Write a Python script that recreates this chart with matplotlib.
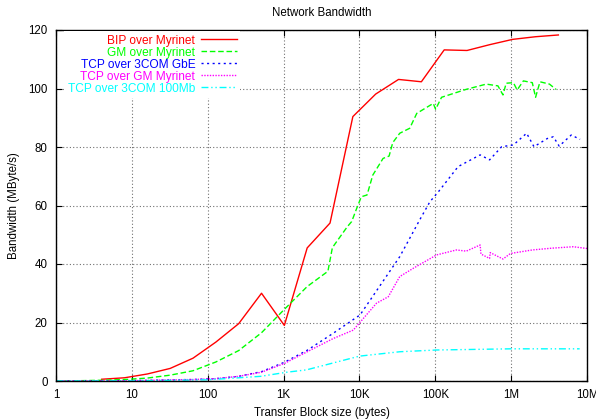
import numpy as np
import matplotlib
matplotlib.use("Agg")
import matplotlib.pyplot as plt

plt.rcParams['font.family'] = ['Liberation Sans', 'DejaVu Sans']
plt.rcParams['font.size'] = 8.3

# block sizes (bytes) and bandwidth (MByte/s)
bip_x = [4, 8, 16, 32, 64, 128, 256, 512, 1024, 2048, 4096, 8192, 16384, 32768,
         65536, 131072, 262144, 524288, 1048576, 2097152, 4194304]
bip_y = [0.6, 1.1, 2.4, 4.3, 7.8, 13.3, 19.6, 30.0, 19.0, 45.5, 54.0, 90.4, 98.1,
         103.1, 102.3, 113.2, 113.0, 115.0, 116.8, 117.7, 118.3]

gm_x = [1, 2, 4, 8, 16, 32, 64, 128, 256, 512, 1024, 2048, 3840, 4400, 6900, 7900,
        9200, 10600, 12600, 15000, 20500, 24600, 27500, 34000, 46000, 57000, 94000,
        101000, 121000, 255000, 470000, 670000, 780000, 860000, 1070000, 1200000,
        1450000, 1900000, 2100000, 2400000, 3200000, 3900000]
gm_y = [0.05, 0.1, 0.25, 0.5, 1.0, 2.0, 3.5, 6.5, 10.4, 16.5, 24.5, 32.3, 37.5, 45.6,
        52.7, 54.5, 59.0, 63.0, 63.6, 70.4, 76.1, 76.9, 81.5, 84.7, 86.4, 91.5, 94.9,
        92.9, 97.0, 99.7, 101.5, 100.9, 97.8, 101.8, 102.0, 99.5, 102.6, 102.0, 97.0,
        102.3, 101.5, 99.7]

gbe_x = [1, 2, 4, 8, 16, 32, 64, 128, 256, 512, 1024, 2048, 4500, 10200, 34000, 63000,
         85000, 110000, 200000, 390000, 520000, 750000, 1070000, 1600000, 2000000,
         3000000, 3600000, 4300000, 6200000, 8100000]
gbe_y = [0.0, 0.02, 0.05, 0.1, 0.2, 0.4, 0.5, 0.8, 1.6, 3.2, 6.4, 10.5, 16.3, 22.6,
         42.5, 55.3, 61.3, 64.7, 73.3, 77.3, 75.6, 80.1, 80.7, 84.7, 80.1, 82.9, 83.5,
         80.3, 84.1, 82.6]

tcpgm_x = [1, 2, 4, 8, 16, 32, 64, 128, 256, 512, 1024, 2048, 4500, 8300, 16800, 24000,
           34000, 51000, 104000, 190000, 256000, 390000, 400000, 520000, 530000, 780000,
           980000, 1900000, 3400000, 6600000, 10000000]
tcpgm_y = [0.0, 0.02, 0.05, 0.1, 0.2, 0.4, 0.5, 0.8, 1.6, 3.0, 6.0, 10.0, 14.5, 17.4,
           26.6, 28.8, 35.7, 38.5, 43.1, 44.8, 44.4, 46.5, 43.4, 41.9, 43.9, 41.7, 43.6,
           44.8, 45.4, 45.9, 45.3]

fe_x = [1, 10, 100, 500, 1100, 2000, 10000, 34000, 104000, 1000000, 8000000]
fe_y = [0.0, 0.05, 0.4, 1.6, 3.0, 3.8, 8.5, 10.0, 10.6, 11.0, 11.0]

xticks = [1, 10, 100, 1e3, 1e4, 1e5, 1e6, 1e7]
xlabels = ['1', '10', '100', '1K', '10K', '100K', '1M', '10M']

fig = plt.figure(figsize=(5.96, 4.2), dpi=100)
ax = fig.add_axes([56/596, 1 - 381/420, 531/596, 351/420])

ax.plot(bip_x, bip_y, color='#ff0000', lw=1, label='BIP over Myrinet')
ax.plot(gm_x, gm_y, color='#00ff00', lw=1, ls=(0, (4, 2)), label='GM over Myrinet')
ax.plot(gbe_x, gbe_y, color='#0000ff', lw=1, ls=(0, (1.5, 2.5)), label='TCP over 3COM GbE')
ax.plot(tcpgm_x, tcpgm_y, color='#ff00ff', lw=1, ls=(0, (1, 1)), label='TCP over GM Myrinet')
ax.plot(fe_x, fe_y, color='#00ffff', lw=1, ls=(0, (5, 2, 1, 2, 1, 2)), label='TCP over 3COM 100Mb')

ax.set_xscale('log')
ax.set_xlim(1, 1e7)
ax.set_ylim(0, 120)
ax.set_xticks(xticks)
ax.set_xticklabels(xlabels)
ax.xaxis.set_minor_locator(matplotlib.ticker.NullLocator())
ax.set_yticks(range(0, 121, 20))
ax.tick_params(direction='in', top=True, right=True, length=4, width=0.8, pad=6)
ax.grid(True, color='#707070', ls=(0, (1, 2)), lw=0.8)
ax.set_axisbelow(True)
for s in ax.spines.values():
    s.set_linewidth(1)

ax.set_title('Network Bandwidth', fontsize=8.3, pad=10)
ax.set_xlabel('Transfer Block size (bytes)', fontsize=8.3, labelpad=4)
ax.set_ylabel('Bandwidth (MByte/s)', fontsize=8.3, labelpad=6)

leg = ax.legend(loc='upper right', bbox_to_anchor=(0.358, 1.014), markerfirst=False,
                handlelength=3.0, handletextpad=0.45, labelspacing=0.0, fontsize=8.6,
                frameon=True, fancybox=False, framealpha=1, borderpad=0.3)
leg.get_frame().set_edgecolor('none')
for t, l in zip(leg.get_texts(), leg.get_lines()):
    t.set_color(l.get_color())

fig.savefig('out.png', dpi=100)
